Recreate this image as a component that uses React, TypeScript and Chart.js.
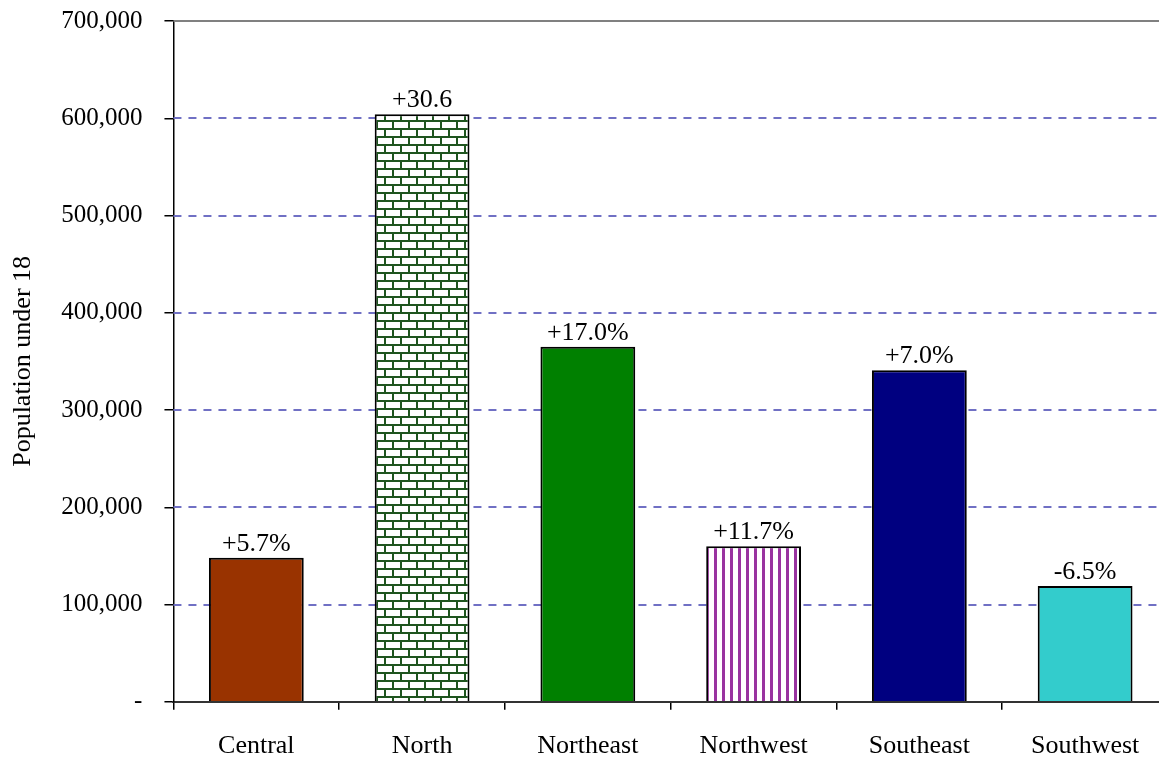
import React, { useEffect, useRef } from "react";
import { Chart, registerables } from "chart.js";

Chart.register(...registerables);

const categories = ["Central", "North", "Northeast", "Northwest", "Southeast", "Southwest"];
const population = [148000, 604000, 365000, 160000, 341000, 119000];
const changeLabels = ["+5.7%", "+30.6", "+17.0%", "+11.7%", "+7.0%", "-6.5%"];
const yTickValues = [0, 100000, 200000, 300000, 400000, 500000, 600000, 700000];
const solidColors = ["#993300", null, "#008000", null, "#000080", "#33CCCC"];

const FONT = "'Liberation Serif', 'Times New Roman', serif";

function brickPattern(ctx: CanvasRenderingContext2D) {
  const c = document.createElement("canvas");
  c.width = 16;
  c.height = 16;
  const g = c.getContext("2d")!;
  g.fillStyle = "#ffffff";
  g.fillRect(0, 0, 16, 16);
  g.fillStyle = "#1f551f";
  g.fillRect(0, 0, 16, 2);
  g.fillRect(0, 8, 16, 2);
  g.fillRect(0, 0, 2, 8);
  g.fillRect(8, 8, 2, 8);
  return ctx.createPattern(c, "repeat")!;
}

function stripePattern(ctx: CanvasRenderingContext2D) {
  const c = document.createElement("canvas");
  c.width = 8;
  c.height = 8;
  const g = c.getContext("2d")!;
  g.fillStyle = "#ffffff";
  g.fillRect(0, 0, 8, 8);
  g.fillStyle = "#9933a0";
  g.fillRect(2, 0, 3, 8);
  return ctx.createPattern(c, "repeat")!;
}

const gridPlugin = {
  id: "customGrid",
  beforeDatasetsDraw(chart: any) {
    const { ctx, chartArea, scales } = chart;
    const y = scales.y;
    ctx.save();
    for (const v of yTickValues) {
      if (v === 0) continue;
      const py = Math.round(y.getPixelForValue(v));
      ctx.beginPath();
      if (v === yTickValues[yTickValues.length - 1]) {
        ctx.setLineDash([]);
        ctx.strokeStyle = "#808080";
        ctx.lineWidth = 2;
      } else {
        ctx.setLineDash([8, 7]);
        ctx.strokeStyle = "#7070c4";
        ctx.lineWidth = 2;
      }
      ctx.moveTo(chartArea.left, py);
      ctx.lineTo(chartArea.right, py);
      ctx.stroke();
    }
    ctx.restore();
  },
};

const labelPlugin = {
  id: "barLabels",
  afterDatasetsDraw(chart: any) {
    const { ctx } = chart;
    const meta = chart.getDatasetMeta(0);
    ctx.save();
    ctx.font = `26px ${FONT}`;
    ctx.fillStyle = "#000";
    ctx.textAlign = "center";
    ctx.textBaseline = "bottom";
    meta.data.forEach((el: any, i: number) => {
      ctx.fillText(changeLabels[i], el.x, el.y - 1);
    });
    ctx.restore();
  },
};

export default function App() {
  const ref = useRef<HTMLCanvasElement | null>(null);

  useEffect(() => {
    const canvas = ref.current!;
    const ctx = canvas.getContext("2d")!;
    const colors = solidColors.map((c, i) =>
      c ? c : i === 1 ? brickPattern(ctx) : stripePattern(ctx)
    );
    const chart = new Chart(canvas, {
      type: "bar",
      data: {
        labels: categories,
        datasets: [
          {
            data: population,
            backgroundColor: colors as any,
            borderColor: "#000000",
            borderWidth: 2,
            barPercentage: 0.572,
            categoryPercentage: 1,
          },
        ],
      },
      options: {
        animation: false,
        responsive: true,
        maintainAspectRatio: false,
        layout: { padding: { top: 6, left: 0, right: 2, bottom: 0 } },
        plugins: {
          legend: { display: false },
          tooltip: { enabled: false },
        },
        scales: {
          x: {
            grid: {
              display: true,
              offset: true,
              drawOnChartArea: false,
              drawTicks: true,
              tickLength: 8,
              color: "#000000",
              lineWidth: 1.5,
            },
            border: { display: true, color: "#333333", width: 2 },
            ticks: {
              color: "#000",
              font: { family: FONT, size: 26 },
              padding: 21,
              maxRotation: 0,
            },
          },
          y: {
            min: 0,
            max: 700000,
            afterBuildTicks(scale: any) {
              scale.ticks = yTickValues.map((v) => ({ value: v }));
            },
            grid: {
              display: true,
              drawOnChartArea: false,
              drawTicks: true,
              tickLength: 9,
              color: "#000000",
              lineWidth: 1.5,
            },
            border: { display: true, color: "#000000", width: 1.5 },
            ticks: {
              color: "#000",
              font: { family: FONT, size: 25 },
              padding: 22,
              callback: (v: any) => (Number(v) === 0 ? "-" : Number(v).toLocaleString("en-US")),
            },
            title: {
              display: true,
              text: "Population under 18",
              color: "#000",
              font: { family: FONT, size: 26 },
              padding: { top: 8, bottom: 0 },
            },
          },
        },
      },
      plugins: [gridPlugin, labelPlugin],
    });
    return () => chart.destroy();
  }, []);

  return (
    <div
      style={{
        position: "fixed",
        left: 0,
        top: 0,
        width: 1159,
        height: 758,
        overflow: "hidden",
        background: "#fff",
      }}
    >
      <div style={{ position: "absolute", left: 0, top: -16, width: 1170, height: 799 }}>
        <canvas ref={ref} />
      </div>
    </div>
  );
}
